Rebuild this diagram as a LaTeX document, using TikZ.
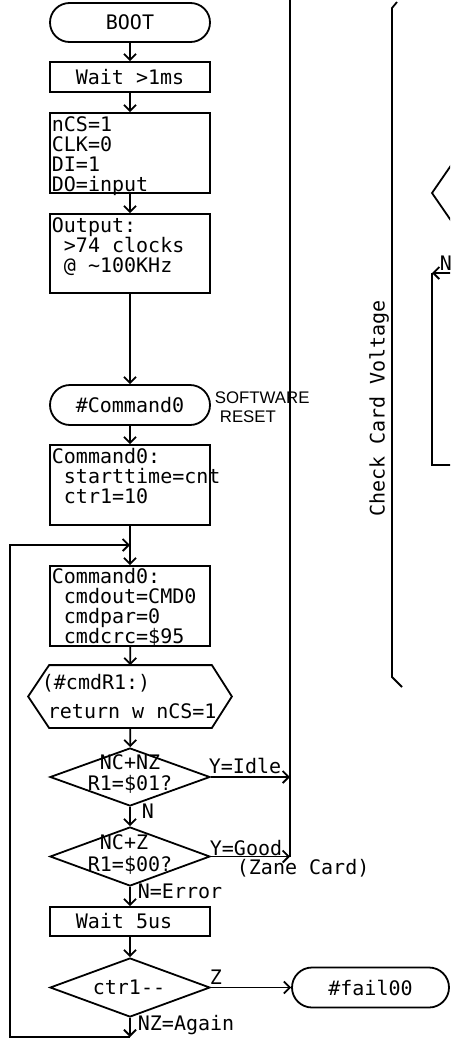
\documentclass[tikz,border=0pt]{standalone}
\usepackage{fontspec}
\newfontfamily\monofam{DejaVu Sans Mono}
\newfontfamily\sansfam{Liberation Sans}
\newcommand{\mfnt}{\monofam\fontsize{20pt}{20pt}\selectfont}
\newcommand{\sfnt}{\sansfam\fontsize{16.8pt}{18pt}\selectfont}
\usetikzlibrary{shapes.geometric, arrows.meta, calc}
\begin{document}
\begin{tikzpicture}[x=1pt,y=-1pt, line width=1.8pt,
  box/.style={draw, rectangle, minimum width=160pt, font=\mfnt},
  term/.style={draw, rectangle, rounded corners=19.5pt, minimum width=160pt, minimum height=39pt, font=\mfnt},
  dec/.style={draw, diamond, minimum width=160pt, minimum height=58pt, inner sep=0pt},
  txt/.style={font=\mfnt, anchor=base west, inner sep=0pt},
  stxt/.style={font=\sfnt, anchor=base west, inner sep=0pt},
  arr/.style={-{Straight Barb[length=6pt,width=12pt]}}]
\fill[white] (0,0) rectangle (450,1039);
\clip (0,0) rectangle (450,1039);

% main column shapes
\node[term] (boot) at (130,22.5) {BOOT};
\node[box, minimum height=30pt] (wait1) at (130,77) {Wait >1ms};
\node[box, minimum height=80pt] (init) at (130,153) {};
\node[box, minimum height=79pt] (outp) at (130,253.5) {};
\node[term, minimum height=40pt, rounded corners=20pt] (cmd0t) at (130,405) {\#Command0};
\node[box, minimum height=80pt] (c0a) at (130,485) {};
\node[box, minimum height=80pt] (c0b) at (130,606) {};
\node[minimum width=161pt, minimum height=61pt, inner sep=0pt] (hex) at (130.5,696.5) {};
\draw (hex.north west) -- (hex.north east) -- ([xshift=20pt]hex.east) -- (hex.south east)
  -- (hex.south west) -- ([xshift=-21pt]hex.west) -- cycle;
\node[dec] (d1) at (130,777) {};
\node[dec, minimum height=59pt] (d2) at (130,856.5) {};
\node[box, minimum height=29pt] (w5) at (130,921.5) {Wait 5us\hphantom{0}};
\node[dec, minimum height=59pt] (d3) at (130,987.5) {};
\node[term, minimum width=157pt, minimum height=40pt, rounded corners=20pt] (fail) at (370.5,987.5) {\#fail00};

% box texts
\node[txt] (i1) at (51,131) {nCS=1};
\node[txt] (i2) at (51,151) {CLK=0};
\node[txt] (i3) at (51,171) {DI=1};
\node[txt] (i4) at (51,191) {DO=input};
\node[txt] (o1) at (51,232) {Output:};
\node[txt] (o2) at (51,252) {\hphantom{0}>74 clocks};
\node[txt] (o3) at (51,272) {\hphantom{0}@ \textasciitilde100KHz};
\node[txt] (a1) at (51,463) {Command0:};
\node[txt] (a2) at (51,483) {\hphantom{0}starttime=cnt};
\node[txt] (a3) at (51,503) {\hphantom{0}ctr1=10};
\node[txt] (b1) at (51,583) {Command0:};
\node[txt] (b2) at (51,603) {\hphantom{0}cmdout=CMD0};
\node[txt] (b3) at (51,623) {\hphantom{0}cmdpar=0};
\node[txt] (b4) at (51,643) {\hphantom{0}cmdcrc=\$95};
\node[txt] (h1) at (41,689) {(\#cmdR1:)};
\node[txt] (h2) at (47,718) {return w nCS=1};
\node[txt] (e1) at (87,769) {\hphantom{0}NC+NZ};
\node[txt] (e2) at (87,790) {R1=\$01?};
\node[txt] (f1) at (87,849) {\hphantom{0}NC+Z};
\node[txt] (f2) at (87,871) {R1=\$00?};
\node[font=\mfnt, inner sep=0pt] (g1) at (129,987.5) {ctr1-{}-};

% side labels
\node[stxt] (sw1) at (214,403) {SOFTWARE};
\node[stxt] (sw2) at (219,422) {RESET};
\node[txt] (lN) at (141,818) {N};
\node[txt] (lErr) at (137,898) {N=Error};
\node[txt] (lAgain) at (137,1030) {NZ=Again};
\node[txt] (lIdle) at (208,773) {Y=Idle};
\node[txt] (lGood) at (209,855) {Y=Good};
\node[txt] (lZane) at (236,874) {(Zane Card)};
\node[txt] (lZ) at (209,984) {Z};
\node[font=\mfnt, rotate=90, inner sep=0pt] (ccv) at (379,408.5) {Check Card Voltage};

% connectors
\draw[arr] (boot) -- (wait1);
\draw[arr] (wait1) -- (init);
\draw[arr] (init) -- (outp);
\draw[arr] (outp) -- (cmd0t);
\draw[arr] (cmd0t) -- (c0a);
\draw[arr] (c0a) -- (c0b);
\draw[arr] (c0b) -- (hex);
\draw[arr] (hex) -- (d1);
\draw[arr] (d1) -- (d2);
\draw[arr] (d2) -- (w5);
\draw[arr] (w5) -- (d3);
\draw[arr] (d3.east) -- (fail.west);

% loop back
\coordinate (lb) at (130,1037);
\coordinate (lbl) at (10,1037);
\coordinate (ltl) at (10,545);
\coordinate (lj) at (130,545);
\draw[arr] (d3.south) -- (lb);
\draw[arr] (lb) -- (lbl) -- (ltl) -- (lj);

% bus line
\coordinate (busT) at (290,0);
\coordinate (busB) at (290,857);
\draw (busT) -- (busB);
\draw[arr] (d1.east) -- (d1.east -| busT);
\draw[arr] (d2.east) -- (d2.east -| busT);

% right-hand partial elements
\draw (397,2) -- (392,8) -- (392,677) -- (402,687);
\draw (452,164) -- (432,193) -- (452,222);
\coordinate (nr) at (452,273);
\coordinate (nl) at (432,273);
\coordinate (nbl) at (432,465);
\coordinate (nbr) at (452,465);
\draw[arr] (nr) -- (nl);
\draw (nl) -- (nbl) -- (nbr);
\node[txt] (lN2) at (439,270) {N};
\end{tikzpicture}
\end{document}
